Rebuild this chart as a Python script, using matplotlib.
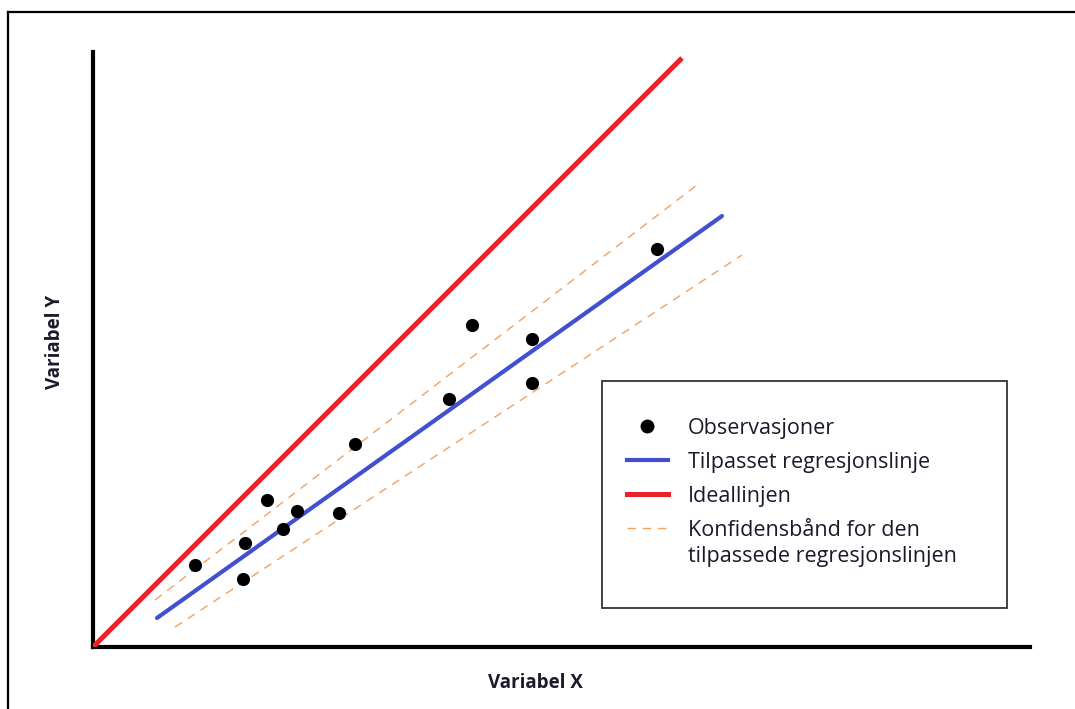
import matplotlib
matplotlib.use("Agg")
import matplotlib.pyplot as plt
from matplotlib.lines import Line2D
from matplotlib.patches import Rectangle
from matplotlib.legend_handler import HandlerLine2D

# Data (arbitrary units; origin at axes corner)
obs_x = [102, 152, 150, 174, 190, 204, 246, 262, 356, 379, 439, 439, 564]
obs_y = [82, 104, 68, 147, 118, 136, 134, 203, 248, 322, 308, 264, 398]

ideal_x = [0, 589]
ideal_y = [0, 589]

fit_x = [64, 629]
fit_y = [29, 431]

upper_x = [62, 604]
upper_y = [47, 462]

lower_x = [82, 649]
lower_y = [20, 392]

labels = ["Observasjoner", "Tilpasset regresjonslinje", "Ideallinjen",
          "Konfidensbånd for den\ntilpassede regresjonslinjen"]


class ShiftedHandler(HandlerLine2D):
    """Line handler aligned with the first line of a two-line label."""
    def __init__(self, shift, **kw):
        super().__init__(**kw)
        self.shift = shift

    def create_artists(self, legend, orig_handle, xdescent, ydescent, width,
                       height, fontsize, trans):
        arts = super().create_artists(legend, orig_handle, xdescent, ydescent,
                                      width, height, fontsize, trans)
        for a in arts:
            a.set_ydata([y + self.shift for y in a.get_ydata()])
        return arts


W, H = 1075, 709
fig = plt.figure(figsize=(W / 100, H / 100), dpi=100)
plt.rcParams['font.family'] = ['Open Sans', 'DejaVu Sans']

# outer frame (top and left edge visible)
fig.add_artist(Line2D([8 / W, 8 / W], [0, 1 - 12 / H], transform=fig.transFigure,
                      color='black', lw=1.6))
fig.add_artist(Line2D([8 / W, 1], [1 - 12 / H, 1 - 12 / H], transform=fig.transFigure,
                      color='black', lw=1.6))

x0, x1 = 93, 1030
y0, y1 = 647, 52
ax = fig.add_axes([x0 / W, 1 - y0 / H, (x1 - x0) / W, (y0 - y1) / H])
ax.set_xlim(0, x1 - x0)
ax.set_ylim(0, y0 - y1)
for s in ['top', 'right']:
    ax.spines[s].set_visible(False)
for s in ['left', 'bottom']:
    ax.spines[s].set_linewidth(3.0)
    ax.spines[s].set_color('black')
ax.set_xticks([])
ax.set_yticks([])

orange = '#f5a05e'
ax.plot(upper_x, upper_y, color=orange, lw=1.0, dashes=(6, 5), zorder=2)
ax.plot(lower_x, lower_y, color=orange, lw=1.0, dashes=(6, 5), zorder=2)
ax.plot(ideal_x, ideal_y, color='#e8212b', lw=3.6, solid_capstyle='butt', zorder=3)
ax.plot(fit_x, fit_y, color='#4150d0', lw=3.0, solid_capstyle='round', zorder=3)
ax.scatter(obs_x, obs_y, s=90, color='black', zorder=4, linewidths=0)

fig.text(535 / W, 1 - 683 / H, "Variabel X", ha='center', va='center',
         fontsize=13.5, fontweight='bold', color='#1a1a2a')
fig.text(55 / W, 1 - 342 / H, "Variabel Y", ha='center', va='center',
         rotation=90, fontsize=13.5, fontweight='bold', color='#1a1a2a')

# legend box
lx0, ly0, lx1, ly1 = 602, 381, 1007, 608
fig.add_artist(Rectangle((lx0 / W, 1 - ly1 / H), (lx1 - lx0) / W, (ly1 - ly0) / H,
                         transform=fig.transFigure, fill=True, facecolor='white',
                         edgecolor='#333333', lw=1.3, zorder=5))
h_obs = Line2D([], [], marker='o', ls='none', color='black', markersize=9)
h_fit = Line2D([], [], color='#4150d0', lw=3.0)
h_ideal = Line2D([], [], color='#e8212b', lw=3.6)
h_band = Line2D([], [], color=orange, lw=1.0, dashes=(6, 5))
handles = [h_obs, h_fit, h_ideal, h_band]
leg = fig.legend(handles, labels, loc='upper left',
                 bbox_to_anchor=(627 / W, 1 - 418 / H), frameon=False,
                 fontsize=15.5, labelspacing=0.6, handlelength=1.9,
                 handletextpad=0.93, borderpad=0.0, borderaxespad=0.0,
                 handler_map={h_band: ShiftedHandler(11.3)})
leg.set_zorder(6)
for t in leg.get_texts():
    t.set_color('#1a1a2a')
    t.set_linespacing(1.32)

fig.savefig("out.png", dpi=100)
